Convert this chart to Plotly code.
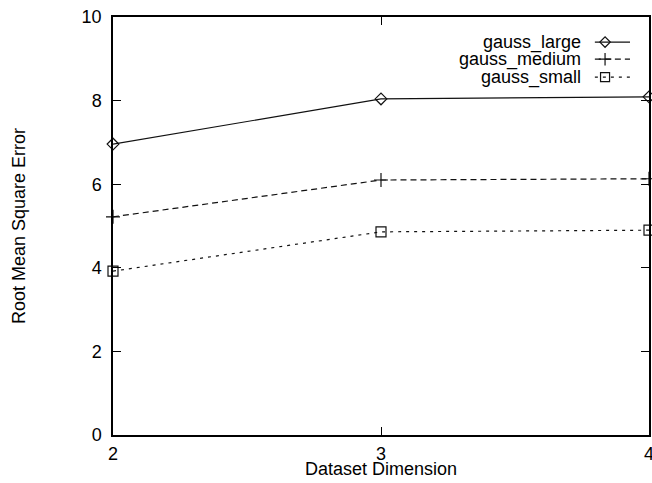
import plotly.graph_objects as go

dims = [2, 3, 4]
gauss_large = [6.96, 8.04, 8.09]
gauss_medium = [5.22, 6.10, 6.13]
gauss_small = [3.92, 4.86, 4.90]
y_ticks = [0, 2, 4, 6, 8, 10]
series_names = ["gauss_large", "gauss_medium", "gauss_small"]

FONT = "Liberation Sans, Arial, sans-serif"
FS = 18

styles = [
    dict(dash="solid", symbol="diamond-open", size=9),
    dict(dash="6px,4px", symbol="cross-thin-open", size=10),
    dict(dash="3px,5px", symbol="square-open", size=10),
]

fig = go.Figure()
for name, vals, st in zip(series_names, [gauss_large, gauss_medium, gauss_small], styles):
    fig.add_trace(go.Scatter(
        x=dims, y=vals, name=name, mode="lines+markers", cliponaxis=False,
        line=dict(color="#111111", width=1.2, dash=st["dash"]),
        marker=dict(symbol=st["symbol"], size=st["size"], color="#111111",
                    line=dict(width=1.2, color="#111111")),
        showlegend=False,
    ))

# custom legend (text on the left, sample on the right) on an overlay axis
leg_y = [0.940, 0.899, 0.856]
for name, st, yy in zip(series_names, styles, leg_y):
    fig.add_trace(go.Scatter(
        x=[0.899, 0.9646], y=[yy, yy], xaxis="x2", yaxis="y2", mode="lines",
        line=dict(color="#111111", width=1.2, dash=st["dash"]), showlegend=False,
        hoverinfo="skip"))
    fig.add_trace(go.Scatter(
        x=[0.918], y=[yy], xaxis="x2", yaxis="y2", mode="markers", cliponaxis=False,
        marker=dict(symbol=st["symbol"], size=st["size"] - 1, color="#111111",
                    line=dict(width=1.2, color="#111111")),
        showlegend=False, hoverinfo="skip"))
    fig.add_annotation(x=0.877, y=yy, xref="x2", yref="y2", text=name,
                       showarrow=False, xanchor="right", yanchor="middle",
                       font=dict(family=FONT, size=FS, color="black"))

axis_common = dict(showline=True, linecolor="black", linewidth=1.5, mirror="ticks",
                   ticks="inside", ticklen=8, tickwidth=1.2, tickcolor="black",
                   showgrid=False, zeroline=False, ticklabeloverflow="allow",
                   automargin=False,
                   tickfont=dict(family=FONT, size=FS, color="black"))

L, T = 113, 17
W, H = 652, 483
fig.update_layout(
    width=W, height=H,
    margin=dict(l=L, r=3, t=T, b=48),
    paper_bgcolor="white", plot_bgcolor="white",
    xaxis=dict(range=[2, 4], tickvals=dims, ticktext=[str(d) for d in dims],
               ticklabelstandoff=2, **axis_common),
    yaxis=dict(range=[0, 10], tickvals=y_ticks, ticktext=[str(v) for v in y_ticks],
               ticklabelstandoff=6, **axis_common),
    xaxis2=dict(range=[0, 1], overlaying="x", visible=False),
    yaxis2=dict(range=[0, 1], overlaying="y", visible=False),
    showlegend=False,
)
fig.add_annotation(x=0.5, y=-0.082, xref="paper", yref="paper", text="Dataset Dimension",
                   showarrow=False, xanchor="center", yanchor="middle",
                   font=dict(family=FONT, size=FS, color="black"))
fig.add_annotation(x=(19 - L) / 536, y=0.5, xref="paper", yref="paper",
                   text="Root Mean Square Error", showarrow=False, textangle=-90,
                   xanchor="center", yanchor="middle",
                   font=dict(family=FONT, size=FS, color="black"))

fig.write_html("out.html", config={"displayModeBar": False},
               post_script="document.body.style.margin='0px';")
